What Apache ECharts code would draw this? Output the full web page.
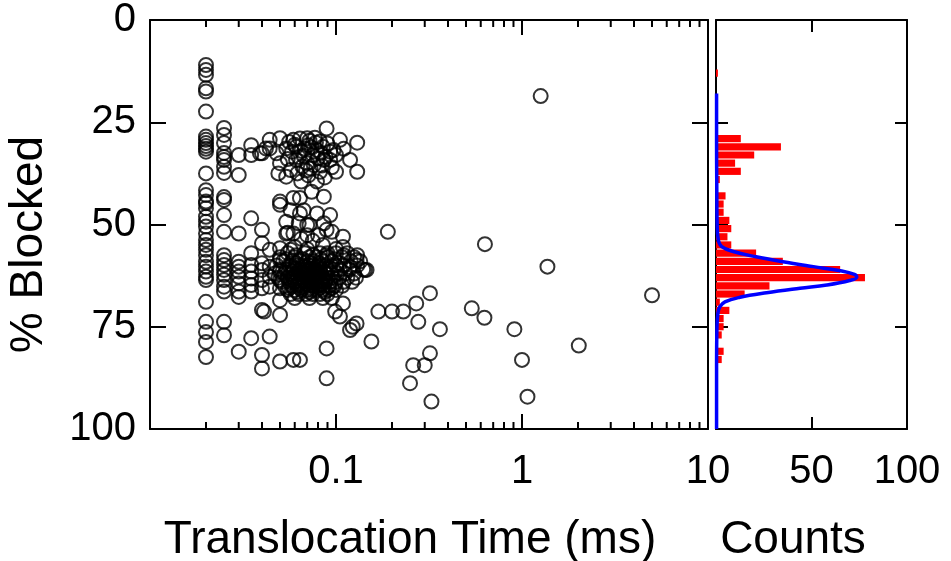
<!DOCTYPE html>
<html><head><meta charset="utf-8">
<script src="https://cdn.jsdelivr.net/npm/echarts@6.0.0/dist/echarts.min.js"></script>
<style>html,body{margin:0;padding:0;background:#fff}#c{width:951px;height:561px}</style>
</head><body><div id="c"></div>
<script>
// Scatter events: [translocation time (ms), % blocked]
const events = [
  // 0.02 ms column
  [0.02,11],[0.02,12.2],[0.02,13.4],[0.02,16.7],[0.02,17.5],[0.02,22.4],[0.02,28.5],[0.02,29.3],[0.02,30.1],[0.02,30.8],[0.02,31.5],[0.02,32.2],
  [0.02,37.5],[0.02,41.6],[0.02,42.8],[0.02,44.4],[0.02,44.8],[0.02,46],[0.02,48.1],[0.02,49.3],[0.02,50.5],[0.02,52.2],[0.02,53.8],[0.02,55],
  [0.02,56.2],[0.02,57.5],[0.02,59.1],[0.02,60.3],[0.02,61.5],[0.02,62.8],[0.02,63.6],[0.02,68.9],[0.02,73.8],[0.02,76.3],[0.02,78.7],[0.02,82.4],
  // 0.025 ms column
  [0.025,26.4],[0.025,28.1],[0.025,30.1],[0.025,32.5],[0.025,33.5],[0.025,34.2],[0.025,35.9],[0.025,37.4],[0.025,43.3],[0.025,44],[0.025,47.7],
  [0.025,51.8],[0.025,57.5],[0.025,58.7],[0.025,59.9],[0.025,61.1],[0.025,62.3],[0.025,63.6],[0.025,65.2],[0.025,66.4],[0.025,73.8],[0.025,77.1],
  // 0.03 ms
  [0.03,33],[0.03,37.9],[0.03,52.2],[0.03,59.1],[0.03,60.3],[0.03,61.5],[0.03,62.8],[0.03,64.4],[0.03,66.4],[0.03,67.7],[0.03,81.1],
  // 0.035 ms
  [0.035,30.6],[0.035,33],[0.035,48.5],[0.035,57],[0.035,59.9],[0.035,61.5],[0.035,63.2],[0.035,64.8],[0.035,66.4],[0.035,77.8],
  // 0.04 ms
  [0.04,32.6],[0.04,51.3],[0.04,54.6],[0.04,59.5],[0.04,61.1],[0.04,63.6],[0.04,65.6],[0.04,70.9],[0.041,71.3],[0.04,81.9],[0.04,85.2],
  // 0.044 ms
  [0.044,29.3],[0.044,31.4],[0.044,56.2],[0.044,60.3],[0.044,62.8],[0.044,65.2],[0.044,77.4],
  // 0.048-0.05 ms
  [0.05,28.9],[0.048,32.6],[0.05,35],[0.049,37.5],[0.05,44.4],[0.05,45.2],[0.05,55.8],[0.05,58.7],[0.05,61.5],[0.05,63.6],[0.05,65.6],[0.05,68.5],[0.05,72.1],[0.05,83.5],
  // upper cluster
  [0.054,31.4],[0.054,38.3],[0.057,36.7],[0.059,29.3],[0.061,31],[0.061,34.2],[0.065,39.5],[0.07,28.9],[0.07,35],[0.071,30.6],[0.073,36.3],
  [0.079,31.8],[0.079,39.5],[0.082,29.7],[0.082,37.1],[0.086,34.2],[0.089,26.5],[0.093,32.2],[0.093,34.2],[0.1,37.1],[0.105,29.3],[0.119,34.2],
  [0.13,30],[0.13,37.1],[0.042,31.4],[0.039,32.6],
  [0.06,30.5],[0.065,32],[0.075,33],[0.068,31.5],[0.072,29.5],[0.078,30],[0.085,31],[0.063,33.5],[0.08,33.8],[0.09,30.2],[0.058,32.2],
  [0.066,35.8],[0.076,35.5],[0.11,31.5],[0.1,33],[0.055,34],[0.095,36],[0.062,37.5],[0.071,38],[0.087,38.5],
  [0.056,29.8],[0.064,29],[0.074,31.2],[0.083,32.5],[0.067,33.2],[0.077,28.8],[0.088,33.5],[0.097,31.8],[0.069,36.8],[0.084,35.6],
  // middle section
  [0.074,42],[0.086,43.2],[0.059,43.5],[0.064,43.5],[0.057,46.5],[0.067,46.5],[0.079,47.3],[0.093,47.7],[0.054,49.3],[0.063,49.7],[0.072,50.1],
  [0.086,49.7],[0.109,53],[0.059,52.2],[0.07,52.6],[0.089,51.3],[0.08,52.6],[0.095,51.8],[0.109,55.5],[0.054,52.2],[0.057,56.2],[0.064,47.3],[0.07,50.1],
  // top of core
  [0.055,52],[0.065,53.5],[0.075,54],[0.085,55],[0.06,55.5],[0.07,56],[0.09,57],[0.1,56],[0.11,57.5],[0.13,57.5],[0.135,59],[0.146,61.1],[0.143,61.1],[0.129,58.7],[0.119,60.4],
  // dense core
  [0.055,57],[0.068,57],[0.082,57],[0.1,57],[0.115,57],
  [0.061,57.5],[0.075,57.5],[0.089,57.5],
  [0.05,58],[0.06,58],[0.072,58],[0.078,58],[0.09,58],[0.108,58],[0.125,58],
  [0.054,58.5],[0.066,58.5],[0.083,58.5],[0.098,58.5],
  [0.052,59],[0.058,59],[0.064,59],[0.07,59],[0.076,59],[0.085,59],[0.095,59],[0.12,59],
  [0.061,59.5],[0.073,59.5],[0.081,59.5],[0.105,59.5],
  [0.048,60],[0.056,60],[0.062,60],[0.066,60],[0.071,60],[0.075,60],[0.08,60],[0.088,60],[0.1,60],[0.11,60],[0.13,60],
  [0.059,60.5],[0.068,60.5],[0.079,60.5],[0.092,60.5],
  [0.05,61],[0.054,61],[0.06,61],[0.064,61],[0.068,61],[0.072,61],[0.077,61],[0.082,61],[0.09,61],[0.097,61],[0.105,61],[0.118,61],[0.14,61],
  [0.058,61.5],[0.066,61.5],[0.074,61.5],[0.08,61.5],[0.087,61.5],
  [0.047,62],[0.053,62],[0.057,62],[0.061,62],[0.065,62],[0.069,62],[0.073,62],[0.078,62],[0.083,62],[0.088,62],[0.094,62],[0.102,62],[0.112,62],[0.125,62],
  [0.06,62.5],[0.067,62.5],[0.075,62.5],[0.081,62.5],
  [0.049,63],[0.055,63],[0.059,63],[0.063,63],[0.066,63],[0.07,63],[0.074,63],[0.079,63],[0.084,63],[0.09,63],[0.096,63],[0.104,63],[0.115,63],[0.128,63],
  [0.057,63.5],[0.065,63.5],[0.072,63.5],[0.077,63.5],[0.088,63.5],
  [0.051,64],[0.056,64],[0.06,64],[0.064,64],[0.068,64],[0.072,64],[0.076,64],[0.081,64],[0.087,64],[0.093,64],[0.1,64],[0.11,64],[0.122,64],
  [0.062,64.5],[0.07,64.5],[0.078,64.5],[0.084,64.5],
  [0.053,65],[0.058,65],[0.062,65],[0.067,65],[0.071,65],[0.075,65],[0.08,65],[0.086,65],[0.092,65],[0.098,65],[0.108,65],
  [0.056,65.5],[0.064,65.5],[0.073,65.5],[0.082,65.5],[0.095,65.5],
  [0.055,66],[0.06,66],[0.065,66],[0.07,66],[0.074,66],[0.079,66],[0.085,66],[0.091,66],[0.1,66],
  [0.062,66.5],[0.072,66.5],[0.087,66.5],
  [0.057,67],[0.063,67],[0.069,67],[0.075,67],[0.082,67],[0.09,67],
  [0.06,68],[0.072,68],[0.085,68],[0.095,68],
  // below core
  [0.109,69.3],[0.099,71.3],[0.105,72.5],[0.129,74.2],[0.119,75.8],[0.123,75],[0.155,78.6],[0.089,80.3],[0.089,87.6],[0.064,83.1],[0.059,83.1],
  [0.169,71.3],[0.2,71.3],[0.23,71.3],[0.27,69.3],[0.277,73.8],[0.26,84.4],[0.3,84.4],[0.25,88.8],[0.32,81.5],[0.326,93.3],[0.32,66.8],[0.19,51.8],
  // long events
  [1.26,18.6],[0.632,54.8],[1.37,60.3],[5.0,67.3],[0.537,70.5],[0.628,72.8],[0.362,75.6],[0.91,75.6],[2.02,79.6],[1.0,83.1],[1.07,92.1]
];

// Histogram of % blocked (bin centres, 2 % wide) and counts
const histCenters = [13,19,27,29,31,33,35,37,39,43,45,47,49,51,53,55,57,59,61,63,65,67,69,71,73,75,77,79,81,83,87,91];
const histCounts  = [ 1, 1, 1,13,34,20,10,13, 2, 5, 4, 4, 7, 8, 6, 8,21,35,65,78,28,15, 2, 7, 4, 4, 3, 1, 4, 3, 1, 1];

// Gaussian fit curve
const fitCounts  = [0.3,0.3,0.4,0.6,1.2,3,9,21,35,51,65,72.5,73.7,70,58,44,26.5,12.6,4.7,2,1,0.5,0.3,0.3];
const fitPercent = [18,30,40,50,53.8,55.4,56.6,57.9,59.1,60.3,61.3,62.2,62.9,63.7,64.8,65.6,66.7,67.8,68.9,70.1,71.7,75,85,100];

// Minor log ticks on the time axis
const logMinorTicks = [0.02,0.03,0.04,0.05,0.06,0.07,0.08,0.09,0.2,0.3,0.4,0.5,0.6,0.7,0.8,0.9,2,3,4,5,6,7,8,9];

const FONT = '"Liberation Sans", Arial, sans-serif';
const BLACK = '#000';
const lineStyle = {color: BLACK, width: 2};
const TICK_FS = 40, NAME_FS = 46;

const chart = echarts.init(document.getElementById('c'));

function axisBase(extra) {
  return Object.assign({
    axisLine: {show: true, onZero: false, lineStyle: lineStyle},
    splitLine: {show: false},
    axisLabel: {show: false}
  }, extra);
}

const option = {
  animation: false,
  backgroundColor: '#fff',
  textStyle: {fontFamily: FONT},
  grid: [
    {left: 150, top: 20, width: 558, height: 409, containLabel: false, outerBoundsMode: 'none'},
    {left: 716, top: 20, width: 191, height: 409, containLabel: false, outerBoundsMode: 'none'}
  ],
  xAxis: [
    axisBase({gridIndex: 0, type: 'log', logBase: 10, min: 0.01, max: 10, position: 'bottom',
      axisTick: {show: true, inside: true, length: 15, lineStyle: lineStyle},
      axisLabel: {show: true, showMinLabel: false, fontSize: TICK_FS, color: BLACK, fontFamily: FONT, margin: 23,
        formatter: v => String(Number(v.toPrecision(3)))},
      name: 'Translocation Time (ms)', nameLocation: 'middle', nameGap: 88,
      nameTextStyle: {fontFamily: FONT, fontSize: NAME_FS, color: BLACK, padding: [0, 38, 0, 0]}
    }),
    axisBase({gridIndex: 0, type: 'log', logBase: 10, min: 0.01, max: 10, position: 'top',
      axisTick: {show: true, inside: true, length: 15, lineStyle: lineStyle}}),
    axisBase({gridIndex: 1, type: 'value', min: 0, max: 100, interval: 50, position: 'bottom',
      axisTick: {show: true, inside: true, length: 12, lineStyle: lineStyle},
      axisLabel: {show: true, showMinLabel: false, fontSize: TICK_FS, color: BLACK, fontFamily: FONT, margin: 23},
      name: 'Counts', nameLocation: 'middle', nameGap: 88,
      nameTextStyle: {fontFamily: FONT, fontSize: NAME_FS, color: BLACK, padding: [0, 37, 0, 0]}
    }),
    axisBase({gridIndex: 1, type: 'value', min: 0, max: 100, interval: 50, position: 'top',
      axisTick: {show: true, inside: true, length: 12, lineStyle: lineStyle}})
  ],
  yAxis: [
    axisBase({gridIndex: 0, type: 'value', inverse: true, min: 0, max: 100, interval: 25, position: 'left',
      axisTick: {show: true, inside: true, length: 16, lineStyle: lineStyle},
      axisLabel: {show: true, fontSize: TICK_FS, color: BLACK, fontFamily: FONT, margin: 14},
      name: '% Blocked', nameLocation: 'middle', nameGap: 98, nameRotate: 90,
      nameTextStyle: {fontFamily: FONT, fontSize: NAME_FS, color: BLACK, padding: [0, 40, 0, 0]}
    }),
    axisBase({gridIndex: 0, type: 'value', inverse: true, min: 0, max: 100, interval: 25, position: 'right',
      axisTick: {show: true, inside: true, length: 16, lineStyle: lineStyle}}),
    axisBase({gridIndex: 1, type: 'value', inverse: true, min: 0, max: 100, interval: 25, position: 'left',
      axisTick: {show: true, inside: true, length: 12, lineStyle: lineStyle}}),
    axisBase({gridIndex: 1, type: 'value', inverse: true, min: 0, max: 100, interval: 25, position: 'right',
      axisTick: {show: true, inside: true, length: 12, lineStyle: lineStyle}})
  ],
  series: [
    {
      type: 'custom', xAxisIndex: 0, yAxisIndex: 0, silent: true, clip: false, z: 5,
      data: logMinorTicks.map(v => [v, 50]),
      renderItem: (params, api) => {
        const v = api.value(0);
        const b = api.coord([v, 100]);
        const t = api.coord([v, 0]);
        return {type: 'group', children: [
          {type: 'line', shape: {x1: b[0], y1: b[1], x2: b[0], y2: b[1] - 7}, style: {stroke: BLACK, lineWidth: 2}},
          {type: 'line', shape: {x1: t[0], y1: t[1], x2: t[0], y2: t[1] + 7}, style: {stroke: BLACK, lineWidth: 2}}
        ]};
      }
    },
    {
      type: 'scatter', xAxisIndex: 0, yAxisIndex: 0,
      data: events,
      symbol: 'circle', symbolSize: 14,
      itemStyle: {color: 'rgba(0,0,0,0)', borderColor: BLACK, borderWidth: 2}
    },
    {
      type: 'custom', xAxisIndex: 2, yAxisIndex: 2, silent: true,
      data: histCenters.map((c, i) => [histCounts[i], c]),
      renderItem: (params, api) => {
        const n = api.value(0), c = api.value(1);
        const p0 = api.coord([0, c - 1]);
        const p1 = api.coord([n, c + 1]);
        return {type: 'rect',
          shape: {x: p0[0], y: p0[1] + 0.5, width: p1[0] - p0[0], height: p1[1] - p0[1] - 1},
          style: {fill: '#ff0000'}};
      }
    },
    {
      type: 'line', xAxisIndex: 2, yAxisIndex: 2, z: 10,
      data: fitCounts.map((c, i) => [c, fitPercent[i]]),
      smooth: 0.4, showSymbol: false, symbol: 'none',
      lineStyle: {color: '#0000ff', width: 3.5}
    }
  ]
};
chart.setOption(option);
</script>
</body></html>
